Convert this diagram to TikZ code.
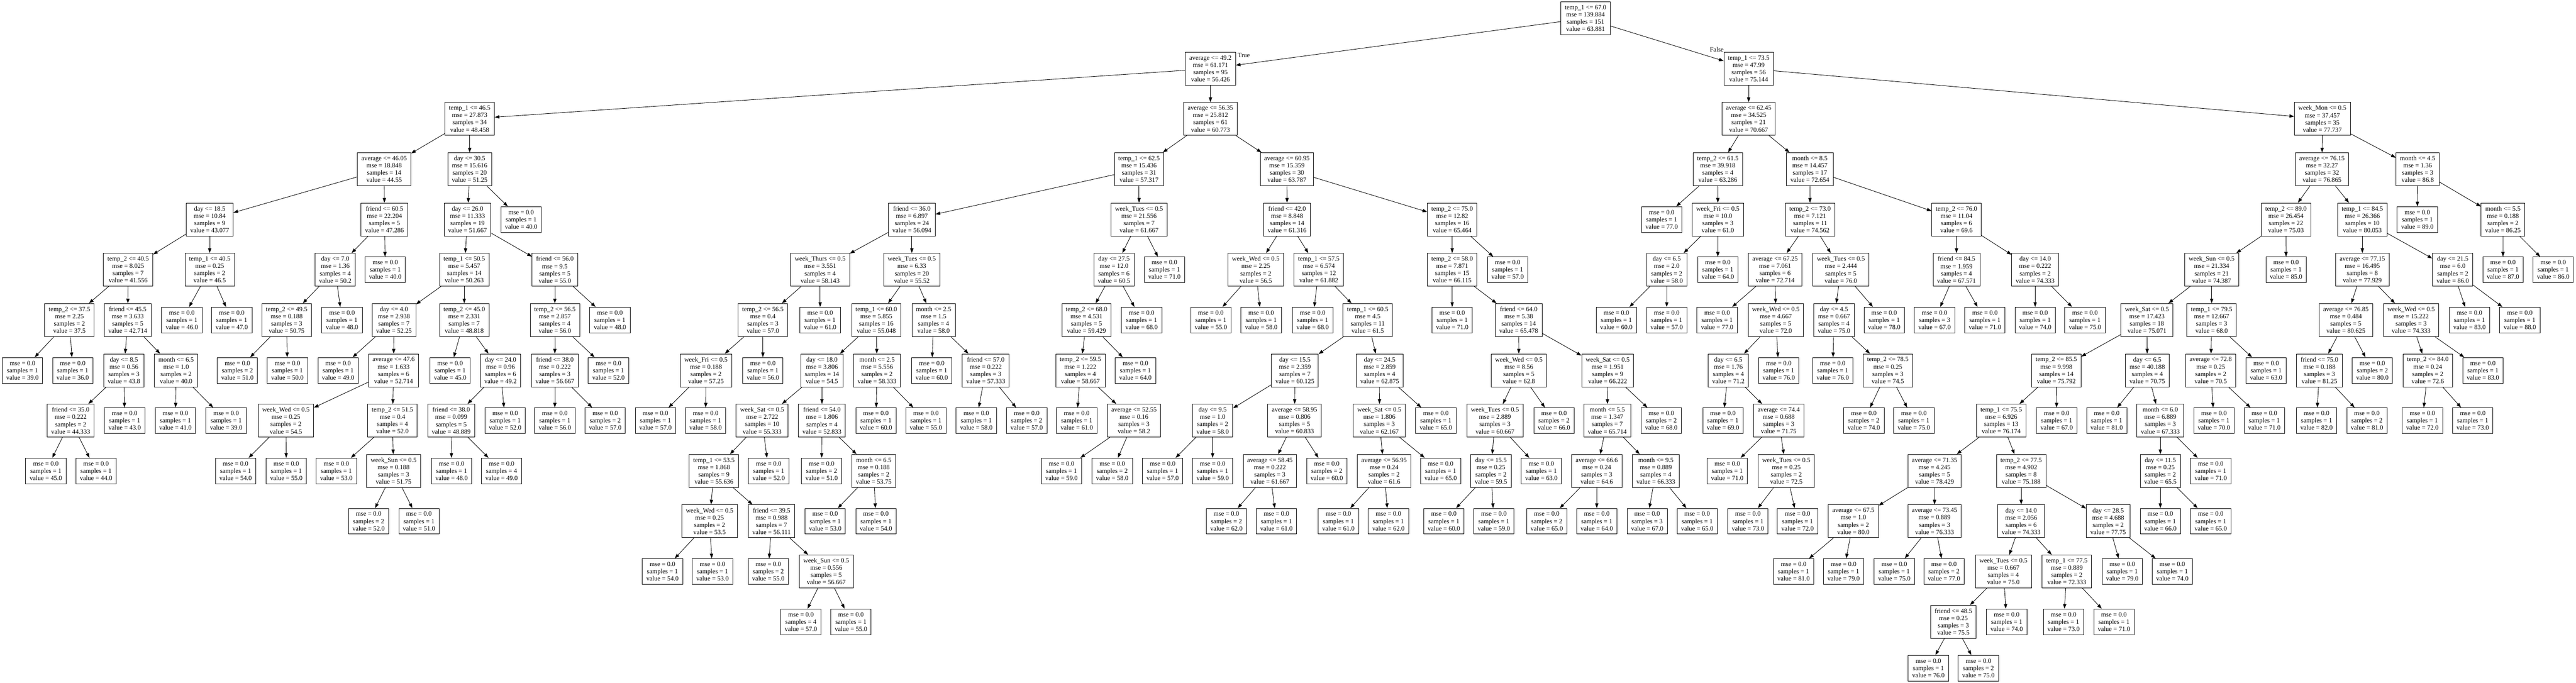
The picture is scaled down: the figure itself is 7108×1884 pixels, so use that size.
\documentclass[tikz,border=0pt]{standalone}
\usepackage{fontspec}
\setmainfont{Liberation Serif}
\usetikzlibrary{arrows.meta}

\begin{document}
\begin{tikzpicture}[
        x=0.02cm, y=-0.02cm,
        font=\fontsize{10.2}{11.4}\selectfont,
        line/.style={-{Triangle[length=7.4pt, width=5.2pt]}, line width=0.7pt},
        cond/.style={draw, line width=0.7pt, align=center, inner xsep=6.3pt, minimum height=51.8pt},
        leaf/.style={draw, line width=0.7pt, align=center, inner xsep=6.3pt, minimum height=40.4pt}
    ]
    \useasboundingbox (0,0) rectangle (7108,1884);

    \node[cond] (l0n1) at (4375,50.5) {temp\_1 <= 67.0\\mse = 139.884\\samples = 151\\value = 63.881};

    \node[cond] (l1n1) at (3340,189.3) {average <= 49.2\\mse = 61.171\\samples = 95\\value = 56.426};
    \node[cond] (l1n2) at (4825,189.3) {temp\_1 <= 73.5\\mse = 47.99\\samples = 56\\value = 75.144};
    \node (true) at (3432,153) {True};
    \node (false) at (4737,137) {False};

    \node[cond] (l2n1) at (1296,328.1) {temp\_1 <= 46.5\\mse = 27.873\\samples = 34\\value = 48.458};
    \node[cond] (l2n2) at (3340,328.1) {average <= 56.35\\mse = 25.812\\samples = 61\\value = 60.773};
    \node[cond] (l2n3) at (4825,328.1) {average <= 62.45\\mse = 34.525\\samples = 21\\value = 70.667};
    \node[cond] (l2n4) at (6408,328.1) {week\_Mon <= 0.5\\mse = 37.457\\samples = 35\\value = 77.737};

    \node[cond] (l3n1) at (1060,466.9) {average <= 46.05\\mse = 18.848\\samples = 14\\value = 44.55};
    \node[cond] (l3n2) at (1296,466.9) {day <= 30.5\\mse = 15.616\\samples = 20\\value = 51.25};
    \node[cond] (l3n3) at (3143,466.9) {temp\_1 <= 62.5\\mse = 15.436\\samples = 31\\value = 57.317};
    \node[cond] (l3n4) at (3551,466.9) {average <= 60.95\\mse = 15.359\\samples = 30\\value = 63.787};
    \node[cond] (l3n5) at (4740,466.9) {temp\_2 <= 61.5\\mse = 39.918\\samples = 4\\value = 63.286};
    \node[cond] (l3n6) at (4994,466.9) {month <= 8.5\\mse = 14.457\\samples = 17\\value = 72.654};
    \node[cond] (l3n7) at (6407,466.9) {average <= 76.15\\mse = 32.27\\samples = 32\\value = 76.865};
    \node[cond] (l3n8) at (6671,466.9) {month <= 4.5\\mse = 1.36\\samples = 3\\value = 86.8};

    \node[cond] (l4n1) at (578.6,605.7) {day <= 18.5\\mse = 10.84\\samples = 9\\value = 43.077};
    \node[cond] (l4n2) at (1061,605.7) {friend <= 60.5\\mse = 22.204\\samples = 5\\value = 47.286};
    \node[cond] (l4n3) at (1290,605.7) {day <= 26.0\\mse = 11.333\\samples = 19\\value = 51.667};
    \node[leaf] (l4n4) at (1438,605.7) {mse = 0.0\\samples = 1\\value = 40.0};
    \node[cond] (l4n5) at (2516,605.7) {friend <= 36.0\\mse = 6.897\\samples = 24\\value = 56.094};
    \node[cond] (l4n6) at (3143,605.7) {week\_Tues <= 0.5\\mse = 21.556\\samples = 7\\value = 61.667};
    \node[cond] (l4n7) at (3551.5,605.7) {friend <= 42.0\\mse = 8.848\\samples = 14\\value = 61.316};
    \node[cond] (l4n8) at (4007,605.7) {temp\_2 <= 75.0\\mse = 12.82\\samples = 16\\value = 65.464};
    \node[leaf] (l4n9) at (4585,605.7) {mse = 0.0\\samples = 1\\value = 77.0};
    \node[cond] (l4n10) at (4740,605.7) {week\_Fri <= 0.5\\mse = 10.0\\samples = 3\\value = 61.0};
    \node[cond] (l4n11) at (4994.5,605.7) {temp\_2 <= 73.0\\mse = 7.121\\samples = 11\\value = 74.562};
    \node[cond] (l4n12) at (5398.5,605.7) {temp\_2 <= 76.0\\mse = 11.04\\samples = 6\\value = 69.6};
    \node[cond] (l4n13) at (6307.6,605.7) {temp\_2 <= 89.0\\mse = 26.454\\samples = 22\\value = 75.03};
    \node[cond] (l4n14) at (6518.4,605.7) {temp\_1 <= 84.5\\mse = 26.366\\samples = 10\\value = 80.053};
    \node[leaf] (l4n15) at (6670,605.7) {mse = 0.0\\samples = 1\\value = 89.0};
    \node[cond] (l4n16) at (6906.4,605.7) {month <= 5.5\\mse = 0.188\\samples = 2\\value = 86.25};

    \node[cond] (l5n1) at (353.6,744.5) {temp\_2 <= 40.5\\mse = 8.025\\samples = 7\\value = 41.556};
    \node[cond] (l5n2) at (578.6,744.5) {temp\_1 <= 40.5\\mse = 0.25\\samples = 2\\value = 46.5};
    \node[cond] (l5n3) at (925,744.5) {day <= 7.0\\mse = 1.36\\samples = 4\\value = 50.2};
    \node[leaf] (l5n4) at (1063,744.5) {mse = 0.0\\samples = 1\\value = 40.0};
    \node[cond] (l5n5) at (1281,744.5) {temp\_1 <= 50.5\\mse = 5.457\\samples = 14\\value = 50.263};
    \node[cond] (l5n6) at (1531,744.5) {friend <= 56.0\\mse = 9.5\\samples = 5\\value = 55.0};
    \node[cond] (l5n7) at (2263,744.5) {week\_Thurs <= 0.5\\mse = 3.551\\samples = 4\\value = 58.143};
    \node[cond] (l5n8) at (2516,744.5) {week\_Tues <= 0.5\\mse = 6.33\\samples = 20\\value = 55.52};
    \node[cond] (l5n9) at (3074,744.5) {day <= 27.5\\mse = 12.0\\samples = 6\\value = 60.5};
    \node[leaf] (l5n10) at (3213,744.5) {mse = 0.0\\samples = 1\\value = 71.0};
    \node[cond] (l5n11) at (3465,744.5) {week\_Wed <= 0.5\\mse = 2.25\\samples = 2\\value = 56.5};
    \node[cond] (l5n12) at (3639,744.5) {temp\_1 <= 57.5\\mse = 6.574\\samples = 12\\value = 61.882};
    \node[cond] (l5n13) at (4007,744.5) {temp\_2 <= 58.0\\mse = 7.871\\samples = 15\\value = 66.115};
    \node[leaf] (l5n14) at (4160,744.5) {mse = 0.0\\samples = 1\\value = 57.0};
    \node[cond] (l5n15) at (4599,744.5) {day <= 6.5\\mse = 2.0\\samples = 2\\value = 58.0};
    \node[leaf] (l5n16) at (4740,744.5) {mse = 0.0\\samples = 1\\value = 64.0};
    \node[cond] (l5n17) at (4898,744.5) {average <= 67.25\\mse = 7.061\\samples = 6\\value = 72.714};
    \node[cond] (l5n18) at (5079.5,744.5) {week\_Tues <= 0.5\\mse = 2.444\\samples = 5\\value = 76.0};
    \node[cond] (l5n19) at (5398.5,744.5) {friend <= 84.5\\mse = 1.959\\samples = 4\\value = 67.571};
    \node[cond] (l5n20) at (5615.6,744.5) {day <= 14.0\\mse = 0.222\\samples = 2\\value = 74.333};
    \node[cond] (l5n21) at (6102.6,744.5) {week\_Sun <= 0.5\\mse = 21.334\\samples = 21\\value = 74.387};
    \node[leaf] (l5n22) at (6308,744.5) {mse = 0.0\\samples = 1\\value = 85.0};
    \node[cond] (l5n23) at (6518.4,744.5) {average <= 77.15\\mse = 16.495\\samples = 8\\value = 77.929};
    \node[cond] (l5n24) at (6767.7,744.5) {day <= 21.5\\mse = 6.0\\samples = 2\\value = 86.0};
    \node[leaf] (l5n25) at (6906.5,744.5) {mse = 0.0\\samples = 1\\value = 87.0};
    \node[leaf] (l5n26) at (7045,744.5) {mse = 0.0\\samples = 1\\value = 86.0};

    \node[cond] (l6n1) at (191.7,883.3) {temp\_2 <= 37.5\\mse = 2.25\\samples = 2\\value = 37.5};
    \node[cond] (l6n2) at (352.5,883.3) {friend <= 45.5\\mse = 3.633\\samples = 5\\value = 42.714};
    \node[leaf] (l6n3) at (501.7,883.3) {mse = 0.0\\samples = 1\\value = 46.0};
    \node[leaf] (l6n4) at (639.4,883.3) {mse = 0.0\\samples = 1\\value = 47.0};
    \node[cond] (l6n5) at (791,883.3) {temp\_2 <= 49.5\\mse = 0.188\\samples = 3\\value = 50.75};
    \node[leaf] (l6n6) at (943.7,883.3) {mse = 0.0\\samples = 1\\value = 48.0};
    \node[cond] (l6n7) at (1087,883.3) {day <= 4.0\\mse = 2.938\\samples = 7\\value = 52.25};
    \node[cond] (l6n8) at (1281,883.3) {temp\_2 <= 45.0\\mse = 2.331\\samples = 7\\value = 48.818};
    \node[cond] (l6n9) at (1531,883.3) {temp\_2 <= 56.5\\mse = 2.857\\samples = 4\\value = 56.0};
    \node[leaf] (l6n10) at (1683,883.3) {mse = 0.0\\samples = 1\\value = 48.0};
    \node[cond] (l6n11) at (2105,883.3) {temp\_2 <= 56.5\\mse = 0.4\\samples = 3\\value = 57.0};
    \node[leaf] (l6n12) at (2263,883.3) {mse = 0.0\\samples = 1\\value = 61.0};
    \node[cond] (l6n13) at (2418,883.3) {temp\_1 <= 60.0\\mse = 5.855\\samples = 16\\value = 55.048};
    \node[cond] (l6n14) at (2576,883.3) {month <= 2.5\\mse = 1.5\\samples = 4\\value = 58.0};
    \node[cond] (l6n15) at (2998,883.3) {temp\_2 <= 68.0\\mse = 4.531\\samples = 5\\value = 59.429};
    \node[leaf] (l6n16) at (3150,883.3) {mse = 0.0\\samples = 1\\value = 68.0};
    \node[leaf] (l6n17) at (3341,883.3) {mse = 0.0\\samples = 1\\value = 55.0};
    \node[leaf] (l6n18) at (3480,883.3) {mse = 0.0\\samples = 1\\value = 58.0};
    \node[leaf] (l6n19) at (3622,883.3) {mse = 0.0\\samples = 1\\value = 68.0};
    \node[cond] (l6n20) at (3774,883.3) {temp\_1 <= 60.5\\mse = 4.5\\samples = 11\\value = 61.5};
    \node[leaf] (l6n21) at (4007,883.3) {mse = 0.0\\samples = 1\\value = 71.0};
    \node[cond] (l6n22) at (4190.5,883.3) {friend <= 64.0\\mse = 5.38\\samples = 14\\value = 65.478};
    \node[leaf] (l6n23) at (4460,883.3) {mse = 0.0\\samples = 1\\value = 60.0};
    \node[leaf] (l6n24) at (4599,883.3) {mse = 0.0\\samples = 1\\value = 57.0};
    \node[leaf] (l6n25) at (4738,883.3) {mse = 0.0\\samples = 1\\value = 77.0};
    \node[cond] (l6n26) at (4900,883.3) {week\_Wed <= 0.5\\mse = 4.667\\samples = 5\\value = 72.0};
    \node[cond] (l6n27) at (5060.6,883.3) {day <= 4.5\\mse = 0.667\\samples = 4\\value = 75.0};
    \node[leaf] (l6n28) at (5199,883.3) {mse = 0.0\\samples = 1\\value = 78.0};
    \node[leaf] (l6n29) at (5338,883.3) {mse = 0.0\\samples = 3\\value = 67.0};
    \node[leaf] (l6n30) at (5477,883.3) {mse = 0.0\\samples = 1\\value = 71.0};
    \node[leaf] (l6n31) at (5615.6,883.3) {mse = 0.0\\samples = 1\\value = 74.0};
    \node[leaf] (l6n32) at (5753,883.3) {mse = 0.0\\samples = 1\\value = 75.0};
    \node[cond] (l6n33) at (5924,883.3) {week\_Sat <= 0.5\\mse = 17.423\\samples = 18\\value = 75.071};
    \node[cond] (l6n34) at (6102.6,883.3) {temp\_1 <= 79.5\\mse = 12.667\\samples = 3\\value = 68.0};
    \node[cond] (l6n35) at (6473,883.3) {average <= 76.85\\mse = 0.484\\samples = 5\\value = 80.625};
    \node[cond] (l6n36) at (6653,883.3) {week\_Wed <= 0.5\\mse = 15.222\\samples = 3\\value = 74.333};
    \node[leaf] (l6n37) at (6814,883.3) {mse = 0.0\\samples = 1\\value = 83.0};
    \node[leaf] (l6n38) at (6953,883.3) {mse = 0.0\\samples = 1\\value = 88.0};

    \node[leaf] (l7n1) at (62,1022.1) {mse = 0.0\\samples = 1\\value = 39.0};
    \node[leaf] (l7n2) at (200.6,1022.1) {mse = 0.0\\samples = 1\\value = 36.0};
    \node[cond] (l7n3) at (342,1022.1) {day <= 8.5\\mse = 0.56\\samples = 3\\value = 43.8};
    \node[cond] (l7n4) at (486,1022.1) {month <= 6.5\\mse = 1.0\\samples = 2\\value = 40.0};
    \node[leaf] (l7n5) at (655,1022.1) {mse = 0.0\\samples = 2\\value = 51.0};
    \node[leaf] (l7n6) at (793,1022.1) {mse = 0.0\\samples = 1\\value = 50.0};
    \node[leaf] (l7n7) at (933,1022.1) {mse = 0.0\\samples = 1\\value = 49.0};
    \node[cond] (l7n8) at (1086,1022.1) {average <= 47.6\\mse = 1.633\\samples = 6\\value = 52.714};
    \node[leaf] (l7n9) at (1242,1022.1) {mse = 0.0\\samples = 1\\value = 45.0};
    \node[cond] (l7n10) at (1381,1022.1) {day <= 24.0\\mse = 0.96\\samples = 6\\value = 49.2};
    \node[cond] (l7n11) at (1531,1022.1) {friend <= 38.0\\mse = 0.222\\samples = 3\\value = 56.667};
    \node[leaf] (l7n12) at (1679,1022.1) {mse = 0.0\\samples = 1\\value = 52.0};
    \node[cond] (l7n13) at (1948,1022.1) {week\_Fri <= 0.5\\mse = 0.188\\samples = 2\\value = 57.25};
    \node[leaf] (l7n14) at (2105,1022.1) {mse = 0.0\\samples = 1\\value = 56.0};
    \node[cond] (l7n15) at (2268,1022.1) {day <= 18.0\\mse = 3.806\\samples = 14\\value = 54.5};
    \node[cond] (l7n16) at (2420,1022.1) {month <= 2.5\\mse = 5.556\\samples = 2\\value = 58.333};
    \node[leaf] (l7n17) at (2571,1022.1) {mse = 0.0\\samples = 1\\value = 60.0};
    \node[cond] (l7n18) at (2720,1022.1) {friend <= 57.0\\mse = 0.222\\samples = 3\\value = 57.333};
    \node[cond] (l7n19) at (2981,1022.1) {temp\_2 <= 59.5\\mse = 1.222\\samples = 4\\value = 58.667};
    \node[leaf] (l7n20) at (3133,1022.1) {mse = 0.0\\samples = 1\\value = 64.0};
    \node[cond] (l7n21) at (3573,1022.1) {day <= 15.5\\mse = 2.359\\samples = 7\\value = 60.125};
    \node[cond] (l7n22) at (3807,1022.1) {day <= 24.5\\mse = 2.859\\samples = 4\\value = 62.875};
    \node[cond] (l7n23) at (4191,1022.1) {week\_Wed <= 0.5\\mse = 8.56\\samples = 5\\value = 62.8};
    \node[cond] (l7n24) at (4436,1022.1) {week\_Sat <= 0.5\\mse = 1.951\\samples = 9\\value = 66.222};
    \node[cond] (l7n25) at (4769,1022.1) {day <= 6.5\\mse = 1.76\\samples = 4\\value = 71.2};
    \node[leaf] (l7n26) at (4908,1022.1) {mse = 0.0\\samples = 1\\value = 76.0};
    \node[leaf] (l7n27) at (5057,1022.1) {mse = 0.0\\samples = 1\\value = 76.0};
    \node[cond] (l7n28) at (5209,1022.1) {temp\_2 <= 78.5\\mse = 0.25\\samples = 3\\value = 74.5};
    \node[cond] (l7n29) at (5674,1022.1) {temp\_2 <= 85.5\\mse = 9.998\\samples = 14\\value = 75.792};
    \node[cond] (l7n30) at (5925,1022.1) {day <= 6.5\\mse = 40.188\\samples = 4\\value = 70.75};
    \node[cond] (l7n31) at (6100,1022.1) {average <= 72.8\\mse = 0.25\\samples = 2\\value = 70.5};
    \node[leaf] (l7n32) at (6253,1022.1) {mse = 0.0\\samples = 1\\value = 63.0};
    \node[cond] (l7n33) at (6400,1022.1) {friend <= 75.0\\mse = 0.188\\samples = 3\\value = 81.25};
    \node[leaf] (l7n34) at (6546,1022.1) {mse = 0.0\\samples = 2\\value = 80.0};
    \node[cond] (l7n35) at (6699,1022.1) {temp\_2 <= 84.0\\mse = 0.24\\samples = 2\\value = 72.6};
    \node[leaf] (l7n36) at (6851,1022.1) {mse = 0.0\\samples = 1\\value = 83.0};

    \node[cond] (l8n1) at (195,1160.9) {friend <= 35.0\\mse = 0.222\\samples = 2\\value = 44.333};
    \node[leaf] (l8n2) at (344,1160.9) {mse = 0.0\\samples = 1\\value = 43.0};
    \node[leaf] (l8n3) at (484,1160.9) {mse = 0.0\\samples = 1\\value = 41.0};
    \node[leaf] (l8n4) at (624,1160.9) {mse = 0.0\\samples = 1\\value = 39.0};
    \node[cond] (l8n5) at (789,1160.9) {week\_Wed <= 0.5\\mse = 0.25\\samples = 2\\value = 54.5};
    \node[cond] (l8n6) at (1083,1160.9) {temp\_2 <= 51.5\\mse = 0.4\\samples = 4\\value = 52.0};
    \node[cond] (l8n7) at (1245,1160.9) {friend <= 38.0\\mse = 0.099\\samples = 5\\value = 48.889};
    \node[leaf] (l8n8) at (1394,1160.9) {mse = 0.0\\samples = 1\\value = 52.0};
    \node[leaf] (l8n9) at (1531,1160.9) {mse = 0.0\\samples = 1\\value = 56.0};
    \node[leaf] (l8n10) at (1670,1160.9) {mse = 0.0\\samples = 2\\value = 57.0};
    \node[leaf] (l8n11) at (1808.5,1160.9) {mse = 0.0\\samples = 1\\value = 57.0};
    \node[leaf] (l8n12) at (1947,1160.9) {mse = 0.0\\samples = 1\\value = 58.0};
    \node[cond] (l8n13) at (2103,1160.9) {week\_Sat <= 0.5\\mse = 2.722\\samples = 10\\value = 55.333};
    \node[cond] (l8n14) at (2268,1160.9) {friend <= 54.0\\mse = 1.806\\samples = 4\\value = 52.833};
    \node[leaf] (l8n15) at (2417,1160.9) {mse = 0.0\\samples = 1\\value = 60.0};
    \node[leaf] (l8n16) at (2555,1160.9) {mse = 0.0\\samples = 1\\value = 55.0};
    \node[leaf] (l8n17) at (2694,1160.9) {mse = 0.0\\samples = 1\\value = 58.0};
    \node[leaf] (l8n18) at (2833,1160.9) {mse = 0.0\\samples = 2\\value = 57.0};
    \node[leaf] (l8n19) at (2971,1160.9) {mse = 0.0\\samples = 1\\value = 61.0};
    \node[cond] (l8n20) at (3129,1160.9) {average <= 52.55\\mse = 0.16\\samples = 3\\value = 58.2};
    \node[cond] (l8n21) at (3346,1160.9) {day <= 9.5\\mse = 1.0\\samples = 2\\value = 58.0};
    \node[cond] (l8n22) at (3572,1160.9) {average <= 58.95\\mse = 0.806\\samples = 5\\value = 60.833};
    \node[cond] (l8n23) at (3806,1160.9) {week\_Sat <= 0.5\\mse = 1.806\\samples = 3\\value = 62.167};
    \node[leaf] (l8n24) at (3962,1160.9) {mse = 0.0\\samples = 1\\value = 65.0};
    \node[cond] (l8n25) at (4125,1160.9) {week\_Tues <= 0.5\\mse = 2.889\\samples = 3\\value = 60.667};
    \node[leaf] (l8n26) at (4288,1160.9) {mse = 0.0\\samples = 2\\value = 66.0};
    \node[cond] (l8n27) at (4435,1160.9) {month <= 5.5\\mse = 1.347\\samples = 7\\value = 65.714};
    \node[leaf] (l8n28) at (4584,1160.9) {mse = 0.0\\samples = 2\\value = 68.0};
    \node[leaf] (l8n29) at (4754,1160.9) {mse = 0.0\\samples = 1\\value = 69.0};
    \node[cond] (l8n30) at (4908,1160.9) {average <= 74.4\\mse = 0.688\\samples = 3\\value = 71.75};
    \node[leaf] (l8n31) at (5143,1160.9) {mse = 0.0\\samples = 2\\value = 74.0};
    \node[leaf] (l8n32) at (5281,1160.9) {mse = 0.0\\samples = 1\\value = 75.0};
    \node[cond] (l8n33) at (5522,1160.9) {temp\_1 <= 75.5\\mse = 6.926\\samples = 13\\value = 76.174};
    \node[leaf] (l8n34) at (5675,1160.9) {mse = 0.0\\samples = 1\\value = 67.0};
    \node[leaf] (l8n35) at (5813,1160.9) {mse = 0.0\\samples = 1\\value = 81.0};
    \node[cond] (l8n36) at (5961,1160.9) {month <= 6.0\\mse = 6.889\\samples = 3\\value = 67.333};
    \node[leaf] (l8n37) at (6109,1160.9) {mse = 0.0\\samples = 1\\value = 70.0};
    \node[leaf] (l8n38) at (6248,1160.9) {mse = 0.0\\samples = 1\\value = 71.0};
    \node[leaf] (l8n39) at (6392,1160.9) {mse = 0.0\\samples = 1\\value = 82.0};
    \node[leaf] (l8n40) at (6531,1160.9) {mse = 0.0\\samples = 2\\value = 81.0};
    \node[leaf] (l8n41) at (6684,1160.9) {mse = 0.0\\samples = 1\\value = 72.0};
    \node[leaf] (l8n42) at (6823,1160.9) {mse = 0.0\\samples = 1\\value = 73.0};

    \node[leaf] (l9n1) at (126.6,1299.7) {mse = 0.0\\samples = 1\\value = 45.0};
    \node[leaf] (l9n2) at (265,1299.7) {mse = 0.0\\samples = 1\\value = 44.0};
    \node[leaf] (l9n3) at (650,1299.7) {mse = 0.0\\samples = 1\\value = 54.0};
    \node[leaf] (l9n4) at (790,1299.7) {mse = 0.0\\samples = 1\\value = 55.0};
    \node[leaf] (l9n5) at (928,1299.7) {mse = 0.0\\samples = 1\\value = 53.0};
    \node[cond] (l9n6) at (1086,1299.7) {week\_Sun <= 0.5\\mse = 0.188\\samples = 3\\value = 51.75};
    \node[leaf] (l9n7) at (1246,1299.7) {mse = 0.0\\samples = 1\\value = 48.0};
    \node[leaf] (l9n8) at (1384,1299.7) {mse = 0.0\\samples = 4\\value = 49.0};
    \node[cond] (l9n9) at (1970,1299.7) {temp\_1 <= 53.5\\mse = 1.868\\samples = 9\\value = 55.636};
    \node[leaf] (l9n10) at (2121,1299.7) {mse = 0.0\\samples = 1\\value = 52.0};
    \node[leaf] (l9n11) at (2267,1299.7) {mse = 0.0\\samples = 2\\value = 51.0};
    \node[cond] (l9n12) at (2411,1299.7) {month <= 6.5\\mse = 0.188\\samples = 2\\value = 53.75};
    \node[leaf] (l9n13) at (2929,1299.7) {mse = 0.0\\samples = 1\\value = 59.0};
    \node[leaf] (l9n14) at (3069,1299.7) {mse = 0.0\\samples = 2\\value = 58.0};
    \node[leaf] (l9n15) at (3208,1299.7) {mse = 0.0\\samples = 1\\value = 57.0};
    \node[leaf] (l9n16) at (3346,1299.7) {mse = 0.0\\samples = 1\\value = 59.0};
    \node[cond] (l9n17) at (3504,1299.7) {average <= 58.45\\mse = 0.222\\samples = 3\\value = 61.667};
    \node[leaf] (l9n18) at (3661,1299.7) {mse = 0.0\\samples = 2\\value = 60.0};
    \node[cond] (l9n19) at (3819,1299.7) {average <= 56.95\\mse = 0.24\\samples = 2\\value = 61.6};
    \node[leaf] (l9n20) at (3975,1299.7) {mse = 0.0\\samples = 1\\value = 65.0};
    \node[cond] (l9n21) at (4114,1299.7) {day <= 15.5\\mse = 0.25\\samples = 2\\value = 59.5};
    \node[leaf] (l9n22) at (4253,1299.7) {mse = 0.0\\samples = 1\\value = 63.0};
    \node[cond] (l9n23) at (4406,1299.7) {average <= 66.6\\mse = 0.24\\samples = 3\\value = 64.6};
    \node[cond] (l9n24) at (4569,1299.7) {month <= 9.5\\mse = 0.889\\samples = 4\\value = 66.333};
    \node[leaf] (l9n25) at (4766,1299.7) {mse = 0.0\\samples = 1\\value = 71.0};
    \node[cond] (l9n26) at (4929,1299.7) {week\_Tues <= 0.5\\mse = 0.25\\samples = 2\\value = 72.5};
    \node[cond] (l9n27) at (5338,1299.7) {average <= 71.35\\mse = 4.245\\samples = 5\\value = 78.429};
    \node[cond] (l9n28) at (5577,1299.7) {temp\_2 <= 77.5\\mse = 4.902\\samples = 8\\value = 75.188};
    \node[cond] (l9n29) at (5961,1299.7) {day <= 11.5\\mse = 0.25\\samples = 2\\value = 65.5};
    \node[leaf] (l9n30) at (6100,1299.7) {mse = 0.0\\samples = 1\\value = 71.0};

    \node[leaf] (l10n1) at (1017,1438.5) {mse = 0.0\\samples = 2\\value = 52.0};
    \node[leaf] (l10n2) at (1156,1438.5) {mse = 0.0\\samples = 1\\value = 51.0};
    \node[cond] (l10n3) at (1958,1438.5) {week\_Wed <= 0.5\\mse = 0.25\\samples = 2\\value = 53.5};
    \node[cond] (l10n4) at (2129,1438.5) {friend <= 39.5\\mse = 0.988\\samples = 7\\value = 56.111};
    \node[leaf] (l10n5) at (2277,1438.5) {mse = 0.0\\samples = 1\\value = 53.0};
    \node[leaf] (l10n6) at (2417,1438.5) {mse = 0.0\\samples = 1\\value = 54.0};
    \node[leaf] (l10n7) at (3384,1438.5) {mse = 0.0\\samples = 2\\value = 62.0};
    \node[leaf] (l10n8) at (3522,1438.5) {mse = 0.0\\samples = 1\\value = 61.0};
    \node[leaf] (l10n9) at (3693,1438.5) {mse = 0.0\\samples = 1\\value = 61.0};
    \node[leaf] (l10n10) at (3831,1438.5) {mse = 0.0\\samples = 1\\value = 62.0};
    \node[leaf] (l10n11) at (3984,1438.5) {mse = 0.0\\samples = 1\\value = 60.0};
    \node[leaf] (l10n12) at (4122,1438.5) {mse = 0.0\\samples = 1\\value = 59.0};
    \node[leaf] (l10n13) at (4268,1438.5) {mse = 0.0\\samples = 2\\value = 65.0};
    \node[leaf] (l10n14) at (4406,1438.5) {mse = 0.0\\samples = 1\\value = 64.0};
    \node[leaf] (l10n15) at (4545,1438.5) {mse = 0.0\\samples = 3\\value = 67.0};
    \node[leaf] (l10n16) at (4683,1438.5) {mse = 0.0\\samples = 1\\value = 65.0};
    \node[leaf] (l10n17) at (4823,1438.5) {mse = 0.0\\samples = 1\\value = 73.0};
    \node[leaf] (l10n18) at (4960,1438.5) {mse = 0.0\\samples = 1\\value = 72.0};
    \node[cond] (l10n19) at (5114,1438.5) {average <= 67.5\\mse = 1.0\\samples = 2\\value = 80.0};
    \node[cond] (l10n20) at (5338,1438.5) {average <= 73.45\\mse = 0.889\\samples = 3\\value = 76.333};
    \node[cond] (l10n21) at (5577,1438.5) {day <= 14.0\\mse = 2.056\\samples = 6\\value = 74.333};
    \node[cond] (l10n22) at (5817,1438.5) {day <= 28.5\\mse = 4.688\\samples = 2\\value = 77.75};
    \node[leaf] (l10n23) at (5961,1438.5) {mse = 0.0\\samples = 1\\value = 66.0};
    \node[leaf] (l10n24) at (6100,1438.5) {mse = 0.0\\samples = 1\\value = 65.0};

    \node[leaf] (l11n1) at (1828,1577.3) {mse = 0.0\\samples = 1\\value = 54.0};
    \node[leaf] (l11n2) at (1966,1577.3) {mse = 0.0\\samples = 1\\value = 53.0};
    \node[leaf] (l11n3) at (2120,1577.3) {mse = 0.0\\samples = 2\\value = 55.0};
    \node[cond] (l11n4) at (2280,1577.3) {week\_Sun <= 0.5\\mse = 0.556\\samples = 5\\value = 56.667};
    \node[leaf] (l11n5) at (4949,1577.3) {mse = 0.0\\samples = 1\\value = 81.0};
    \node[leaf] (l11n6) at (5087,1577.3) {mse = 0.0\\samples = 1\\value = 79.0};
    \node[leaf] (l11n7) at (5227,1577.3) {mse = 0.0\\samples = 1\\value = 75.0};
    \node[leaf] (l11n8) at (5364,1577.3) {mse = 0.0\\samples = 2\\value = 77.0};
    \node[cond] (l11n9) at (5528,1577.3) {week\_Tues <= 0.5\\mse = 0.667\\samples = 4\\value = 75.0};
    \node[cond] (l11n10) at (5703,1577.3) {temp\_1 <= 77.5\\mse = 0.889\\samples = 2\\value = 72.333};
    \node[leaf] (l11n11) at (5856,1577.3) {mse = 0.0\\samples = 1\\value = 79.0};
    \node[leaf] (l11n12) at (5994,1577.3) {mse = 0.0\\samples = 1\\value = 74.0};

    \node[leaf] (l12n1) at (2210,1716.1) {mse = 0.0\\samples = 4\\value = 57.0};
    \node[leaf] (l12n2) at (2348,1716.1) {mse = 0.0\\samples = 1\\value = 55.0};
    \node[cond] (l12n3) at (5390,1716.1) {friend <= 48.5\\mse = 0.25\\samples = 3\\value = 75.5};
    \node[leaf] (l12n4) at (5537,1716.1) {mse = 0.0\\samples = 1\\value = 74.0};
    \node[leaf] (l12n5) at (5694,1716.1) {mse = 0.0\\samples = 1\\value = 73.0};
    \node[leaf] (l12n6) at (5833,1716.1) {mse = 0.0\\samples = 1\\value = 71.0};

    \node[leaf] (l13n1) at (5321,1844) {mse = 0.0\\samples = 1\\value = 76.0};
    \node[leaf] (l13n2) at (5459,1844) {mse = 0.0\\samples = 2\\value = 75.0};

    \draw (l0n1) edge[line] (l1n1) edge[line] (l1n2);
    \draw (l1n1) edge[line] (l2n1) edge[line] (l2n2);
    \draw (l1n2) edge[line] (l2n3) edge[line] (l2n4);
    \draw (l2n1) edge[line] (l3n1) edge[line] (l3n2);
    \draw (l2n2) edge[line] (l3n3) edge[line] (l3n4);
    \draw (l2n3) edge[line] (l3n5) edge[line] (l3n6);
    \draw (l2n4) edge[line] (l3n7) edge[line] (l3n8);
    \draw (l3n1) edge[line] (l4n1) edge[line] (l4n2);
    \draw (l3n2) edge[line] (l4n3) edge[line] (l4n4);
    \draw (l3n3) edge[line] (l4n5) edge[line] (l4n6);
    \draw (l3n4) edge[line] (l4n7) edge[line] (l4n8);
    \draw (l3n5) edge[line] (l4n9) edge[line] (l4n10);
    \draw (l3n6) edge[line] (l4n11) edge[line] (l4n12);
    \draw (l3n7) edge[line] (l4n13) edge[line] (l4n14);
    \draw (l3n8) edge[line] (l4n15) edge[line] (l4n16);
    \draw (l4n1) edge[line] (l5n1) edge[line] (l5n2);
    \draw (l4n2) edge[line] (l5n3) edge[line] (l5n4);
    \draw (l4n3) edge[line] (l5n5) edge[line] (l5n6);
    \draw (l4n5) edge[line] (l5n7) edge[line] (l5n8);
    \draw (l4n6) edge[line] (l5n9) edge[line] (l5n10);
    \draw (l4n7) edge[line] (l5n11) edge[line] (l5n12);
    \draw (l4n8) edge[line] (l5n13) edge[line] (l5n14);
    \draw (l4n10) edge[line] (l5n15) edge[line] (l5n16);
    \draw (l4n11) edge[line] (l5n17) edge[line] (l5n18);
    \draw (l4n12) edge[line] (l5n19) edge[line] (l5n20);
    \draw (l4n13) edge[line] (l5n21) edge[line] (l5n22);
    \draw (l4n14) edge[line] (l5n23) edge[line] (l5n24);
    \draw (l4n16) edge[line] (l5n25) edge[line] (l5n26);
    \draw (l5n1) edge[line] (l6n1) edge[line] (l6n2);
    \draw (l5n2) edge[line] (l6n3) edge[line] (l6n4);
    \draw (l5n3) edge[line] (l6n5) edge[line] (l6n6);
    \draw (l5n5) edge[line] (l6n7) edge[line] (l6n8);
    \draw (l5n6) edge[line] (l6n9) edge[line] (l6n10);
    \draw (l5n7) edge[line] (l6n11) edge[line] (l6n12);
    \draw (l5n8) edge[line] (l6n13) edge[line] (l6n14);
    \draw (l5n9) edge[line] (l6n15) edge[line] (l6n16);
    \draw (l5n11) edge[line] (l6n17) edge[line] (l6n18);
    \draw (l5n12) edge[line] (l6n19) edge[line] (l6n20);
    \draw (l5n13) edge[line] (l6n21) edge[line] (l6n22);
    \draw (l5n15) edge[line] (l6n23) edge[line] (l6n24);
    \draw (l5n17) edge[line] (l6n25) edge[line] (l6n26);
    \draw (l5n18) edge[line] (l6n27) edge[line] (l6n28);
    \draw (l5n19) edge[line] (l6n29) edge[line] (l6n30);
    \draw (l5n20) edge[line] (l6n31) edge[line] (l6n32);
    \draw (l5n21) edge[line] (l6n33) edge[line] (l6n34);
    \draw (l5n23) edge[line] (l6n35) edge[line] (l6n36);
    \draw (l5n24) edge[line] (l6n37) edge[line] (l6n38);
    \draw (l6n1) edge[line] (l7n1) edge[line] (l7n2);
    \draw (l6n2) edge[line] (l7n3) edge[line] (l7n4);
    \draw (l6n5) edge[line] (l7n5) edge[line] (l7n6);
    \draw (l6n7) edge[line] (l7n7) edge[line] (l7n8);
    \draw (l6n8) edge[line] (l7n9) edge[line] (l7n10);
    \draw (l6n9) edge[line] (l7n11) edge[line] (l7n12);
    \draw (l6n11) edge[line] (l7n13) edge[line] (l7n14);
    \draw (l6n13) edge[line] (l7n15) edge[line] (l7n16);
    \draw (l6n14) edge[line] (l7n17) edge[line] (l7n18);
    \draw (l6n15) edge[line] (l7n19) edge[line] (l7n20);
    \draw (l6n20) edge[line] (l7n21) edge[line] (l7n22);
    \draw (l6n22) edge[line] (l7n23) edge[line] (l7n24);
    \draw (l6n26) edge[line] (l7n25) edge[line] (l7n26);
    \draw (l6n27) edge[line] (l7n27) edge[line] (l7n28);
    \draw (l6n33) edge[line] (l7n29) edge[line] (l7n30);
    \draw (l6n34) edge[line] (l7n31) edge[line] (l7n32);
    \draw (l6n35) edge[line] (l7n33) edge[line] (l7n34);
    \draw (l6n36) edge[line] (l7n35) edge[line] (l7n36);
    \draw (l7n3) edge[line] (l8n1) edge[line] (l8n2);
    \draw (l7n4) edge[line] (l8n3) edge[line] (l8n4);
    \draw (l7n8) edge[line] (l8n5) edge[line] (l8n6);
    \draw (l7n10) edge[line] (l8n7) edge[line] (l8n8);
    \draw (l7n11) edge[line] (l8n9) edge[line] (l8n10);
    \draw (l7n13) edge[line] (l8n11) edge[line] (l8n12);
    \draw (l7n15) edge[line] (l8n13) edge[line] (l8n14);
    \draw (l7n16) edge[line] (l8n15) edge[line] (l8n16);
    \draw (l7n18) edge[line] (l8n17) edge[line] (l8n18);
    \draw (l7n19) edge[line] (l8n19) edge[line] (l8n20);
    \draw (l7n21) edge[line] (l8n21) edge[line] (l8n22);
    \draw (l7n22) edge[line] (l8n23) edge[line] (l8n24);
    \draw (l7n23) edge[line] (l8n25) edge[line] (l8n26);
    \draw (l7n24) edge[line] (l8n27) edge[line] (l8n28);
    \draw (l7n25) edge[line] (l8n29) edge[line] (l8n30);
    \draw (l7n28) edge[line] (l8n31) edge[line] (l8n32);
    \draw (l7n29) edge[line] (l8n33) edge[line] (l8n34);
    \draw (l7n30) edge[line] (l8n35) edge[line] (l8n36);
    \draw (l7n31) edge[line] (l8n37) edge[line] (l8n38);
    \draw (l7n33) edge[line] (l8n39) edge[line] (l8n40);
    \draw (l7n35) edge[line] (l8n41) edge[line] (l8n42);
    \draw (l8n1) edge[line] (l9n1) edge[line] (l9n2);
    \draw (l8n5) edge[line] (l9n3) edge[line] (l9n4);
    \draw (l8n6) edge[line] (l9n5) edge[line] (l9n6);
    \draw (l8n7) edge[line] (l9n7) edge[line] (l9n8);
    \draw (l8n13) edge[line] (l9n9) edge[line] (l9n10);
    \draw (l8n14) edge[line] (l9n11) edge[line] (l9n12);
    \draw (l8n20) edge[line] (l9n13) edge[line] (l9n14);
    \draw (l8n21) edge[line] (l9n15) edge[line] (l9n16);
    \draw (l8n22) edge[line] (l9n17) edge[line] (l9n18);
    \draw (l8n23) edge[line] (l9n19) edge[line] (l9n20);
    \draw (l8n25) edge[line] (l9n21) edge[line] (l9n22);
    \draw (l8n27) edge[line] (l9n23) edge[line] (l9n24);
    \draw (l8n30) edge[line] (l9n25) edge[line] (l9n26);
    \draw (l8n33) edge[line] (l9n27) edge[line] (l9n28);
    \draw (l8n36) edge[line] (l9n29) edge[line] (l9n30);
    \draw (l9n6) edge[line] (l10n1) edge[line] (l10n2);
    \draw (l9n9) edge[line] (l10n3) edge[line] (l10n4);
    \draw (l9n12) edge[line] (l10n5) edge[line] (l10n6);
    \draw (l9n17) edge[line] (l10n7) edge[line] (l10n8);
    \draw (l9n19) edge[line] (l10n9) edge[line] (l10n10);
    \draw (l9n21) edge[line] (l10n11) edge[line] (l10n12);
    \draw (l9n23) edge[line] (l10n13) edge[line] (l10n14);
    \draw (l9n24) edge[line] (l10n15) edge[line] (l10n16);
    \draw (l9n26) edge[line] (l10n17) edge[line] (l10n18);
    \draw (l9n27) edge[line] (l10n19) edge[line] (l10n20);
    \draw (l9n28) edge[line] (l10n21) edge[line] (l10n22);
    \draw (l9n29) edge[line] (l10n23) edge[line] (l10n24);
    \draw (l10n3) edge[line] (l11n1) edge[line] (l11n2);
    \draw (l10n4) edge[line] (l11n3) edge[line] (l11n4);
    \draw (l10n19) edge[line] (l11n5) edge[line] (l11n6);
    \draw (l10n20) edge[line] (l11n7) edge[line] (l11n8);
    \draw (l10n21) edge[line] (l11n9) edge[line] (l11n10);
    \draw (l10n22) edge[line] (l11n11) edge[line] (l11n12);
    \draw (l11n4) edge[line] (l12n1) edge[line] (l12n2);
    \draw (l11n9) edge[line] (l12n3) edge[line] (l12n4);
    \draw (l11n10) edge[line] (l12n5) edge[line] (l12n6);
    \draw (l12n3) edge[line] (l13n1) edge[line] (l13n2);

\end{tikzpicture}
\end{document}
